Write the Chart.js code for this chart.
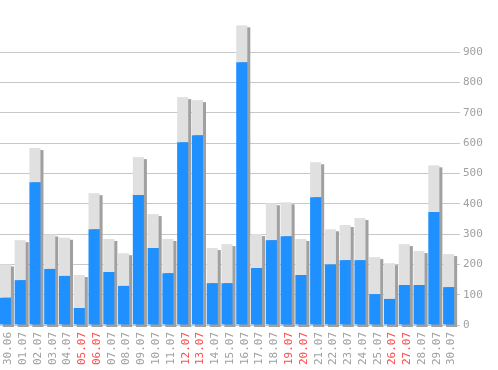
<!DOCTYPE html>
<html>
<head>
<meta charset="utf-8">
<script src="https://cdn.jsdelivr.net/npm/chart.js@4"></script>
<style>
  html, body { margin: 0; padding: 0; background: #ffffff; overflow: hidden; }
  #wrap { position: absolute; left: -2px; top: 0; width: 500px; height: 370px; }
</style>
</head>
<body>
<div id="wrap"><canvas id="myChart" width="500" height="370"></canvas></div>
<script>
const days = [
  "30.06", "01.07", "02.07", "03.07", "04.07", "05.07", "06.07", "07.07",
  "08.07", "09.07", "10.07", "11.07", "12.07", "13.07", "14.07", "15.07",
  "16.07", "17.07", "18.07", "19.07", "20.07", "21.07", "22.07", "23.07",
  "24.07", "25.07", "26.07", "27.07", "28.07", "29.07", "30.07",
];
// weekend days drawn in red
const weekend = ["05.07", "06.07", "12.07", "13.07", "19.07", "20.07", "26.07", "27.07"];

// lower (blue) part of each bar
const blueValues = [
  90, 148, 471, 185, 162, 56, 316, 175, 129, 429, 254, 171, 603, 626, 138, 138,
  867, 188, 280, 293, 165, 422, 200, 214, 214, 102, 86, 132, 132, 373, 125,
];
// upper (grey) part stacked on top
const greyValues = [
  110, 132, 113, 114, 126, 109, 119, 109, 108, 125, 112, 113, 149, 116, 116, 129,
  122, 112, 122, 112, 119, 115, 116, 116, 139, 122, 118, 135, 112, 154, 109,
];
const yTicks = [0, 100, 200, 300, 400, 500, 600, 700, 800, 900];

const ctx = document.getElementById("myChart");

// dark shadow behind each whole bar, offset right and down
const barShadow = {
  id: "barShadow",
  beforeDatasetsDraw(chart) {
    const c = chart.ctx;
    const top = chart.getDatasetMeta(1).data;
    const bottom = chart.scales.y.getPixelForValue(0);
    c.save();
    c.fillStyle = "#a0a0a0";
    top.forEach((el) => {
      const w = el.width;
      c.fillRect(el.x - w / 2 + 3, el.y + 2, w, bottom - el.y);
    });
    c.restore();
  },
};

new Chart(ctx, {
  type: "bar",
  data: {
    labels: days,
    datasets: [
      {
        data: blueValues,
        backgroundColor: "#1e90ff",
        borderWidth: 0,
      },
      {
        data: greyValues,
        backgroundColor: "#e0e0e0",
        borderWidth: 0,
      },
    ],
  },
  options: {
    responsive: false,
    animation: false,
    layout: {
      padding: { top: 22 },
    },
    datasets: {
      bar: {
        categoryPercentage: 1,
        barPercentage: 0.75,
      },
    },
    plugins: {
      legend: { display: false },
      tooltip: { enabled: false },
    },
    scales: {
      x: {
        stacked: true,
        grid: { display: false, drawTicks: false },
        border: { display: false },
        afterFit(scale) {
          scale.height = 45;
        },
        ticks: {
          autoSkip: false,
          minRotation: 90,
          maxRotation: 90,
          padding: 7,
          labelOffset: 3,
          font: { family: "DejaVu Sans Mono", size: 11 },
          color: (c) => (weekend.includes(days[c.index]) ? "#ff4d4d" : "#a0a0a0"),
        },
      },
      y: {
        stacked: true,
        position: "right",
        min: 0,
        max: 1000,
        afterBuildTicks(scale) {
          scale.ticks = yTicks.map((v) => ({ value: v }));
        },
        afterFit(scale) {
          scale.width = 42;
        },
        grid: {
          color: "#c8c8c8",
          lineWidth: 1,
          tickLength: 4,
        },
        border: { display: false },
        ticks: {
          padding: 3,
          font: { family: "DejaVu Sans Mono", size: 11 },
          color: "#a0a0a0",
        },
      },
    },
  },
  plugins: [barShadow],
});
</script>
</body>
</html>
